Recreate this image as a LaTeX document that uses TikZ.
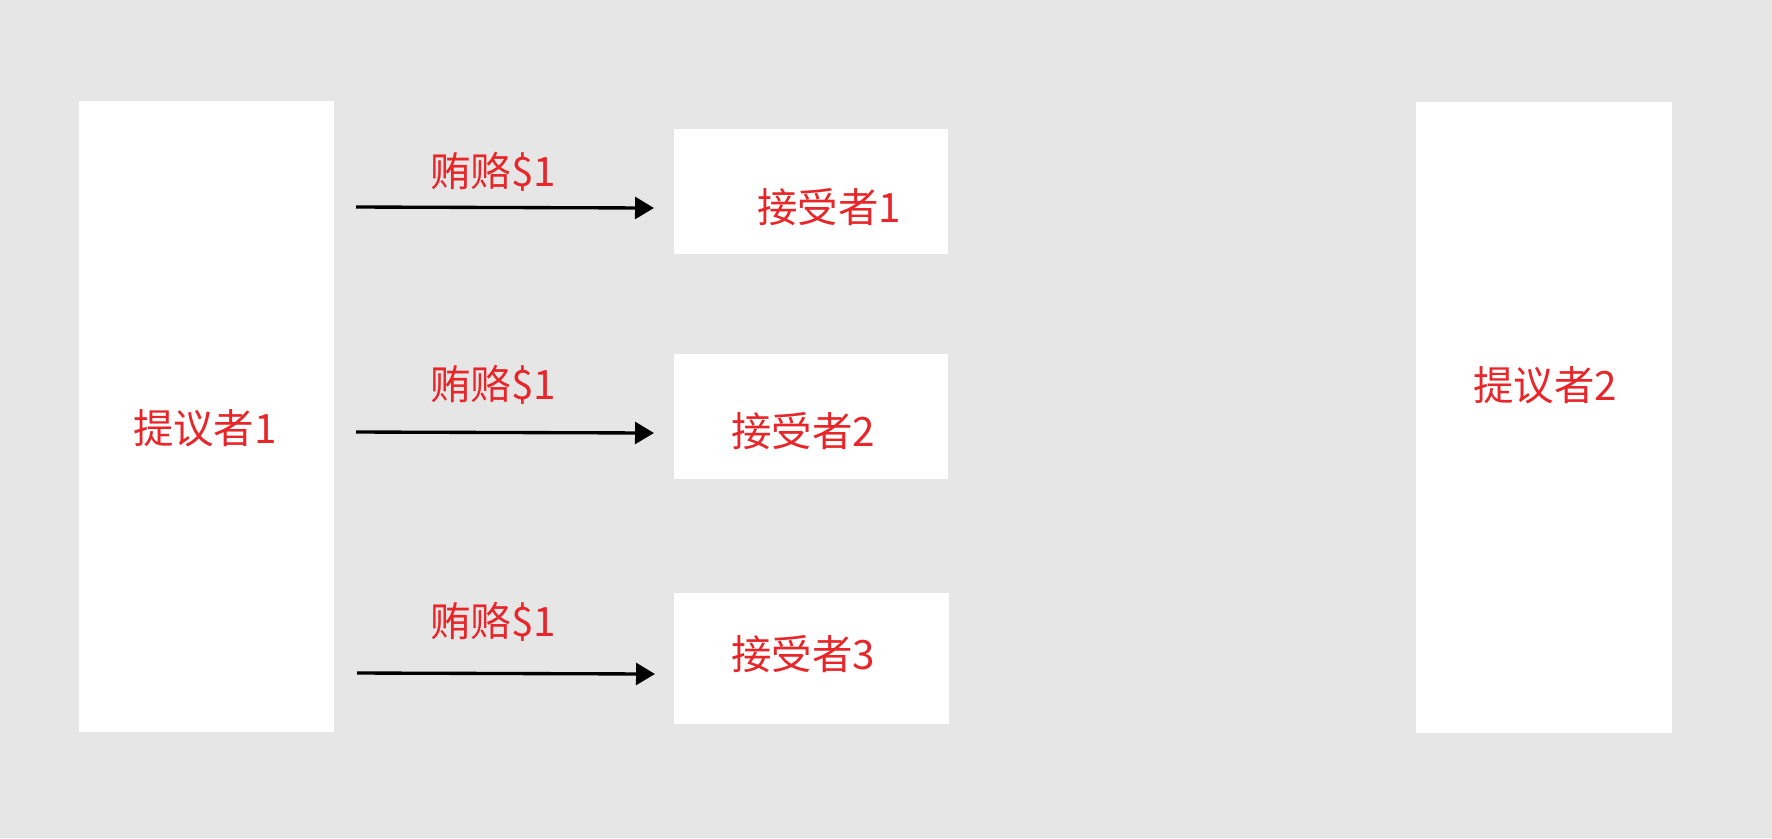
\documentclass[tikz,border=0pt]{standalone}
\usepackage{fontspec}
\newfontfamily\cjk{Noto Sans CJK SC}
\usetikzlibrary{positioning, arrows.meta}
\definecolor{bggray}{RGB}{230,230,230}
\definecolor{txtred}{RGB}{232,38,42}

\begin{document}
\begin{tikzpicture}[
    x=0.01cm, y=-0.01cm,
    proposer/.style={fill=white, inner sep=0pt, minimum width=2.55cm, minimum height=6.31cm},
    acceptor/.style={fill=white, inner sep=0pt, minimum width=2.74cm, minimum height=1.25cm},
    lbl/.style={text=txtred, inner sep=0pt, font=\cjk\fontsize{11.5}{13}\selectfont},
    bribe/.style={-{Triangle[length=5.4pt, width=6.2pt]}, line width=0.95pt}
]
% Background
\fill[bggray] (0,0) rectangle (1772,838);
\useasboundingbox (0,0) rectangle (1772,838);

% Proposers
\node[proposer] (prop1) at (206.5,416.5) {};
\node[lbl] (prop1txt) at (205,428) {提议者1};
\node[proposer] (prop2) at (1544,417.5) {};
\node[lbl] (prop2txt) at (1545,385) {提议者2};

% Acceptors
\node[acceptor] (acc1) at (811,191.5) {};
\node[lbl] (acc1txt) at (829,207) {接受者1};
\node[acceptor] (acc2) at (811,416.5) {};
\node[lbl] (acc2txt) at (803,431) {接受者2};
\node[acceptor, minimum height=1.31cm] (acc3) at (811.5,658.5) {};
\node[lbl] (acc3txt) at (803,654) {接受者3};

% Bribe arrows
\coordinate (b1s) at (356,207);
\coordinate (b1e) at (654,208);
\coordinate (b2s) at (356,432);
\coordinate (b2e) at (654,433);
\coordinate (b3s) at (357,673);
\coordinate (b3e) at (655,674);
\draw[bribe] (b1s) -- (b1e);
\draw[bribe] (b2s) -- (b2e);
\draw[bribe] (b3s) -- (b3e);
\node[lbl] (bribe1) at (493,172) {贿赂\$1};
\node[lbl] (bribe2) at (493,385) {贿赂\$1};
\node[lbl] (bribe3) at (493,622) {贿赂\$1};
\end{tikzpicture}
\end{document}
